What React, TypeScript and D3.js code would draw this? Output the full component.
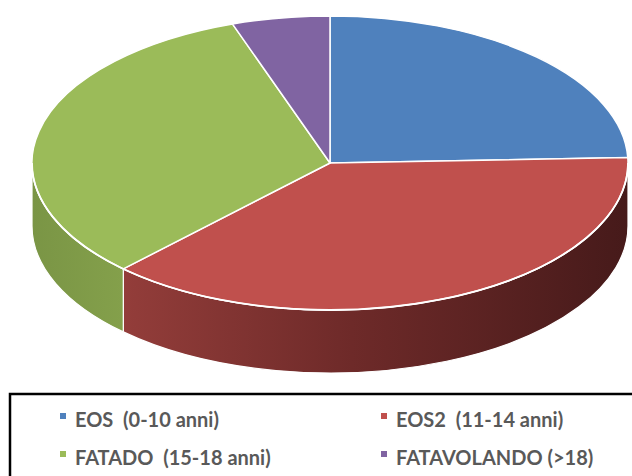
import * as d3 from 'd3'

const labels = ['EOS  (0-10 anni)', 'EOS2  (11-14 anni)', 'FATADO  (15-18 anni)', 'FATAVOLANDO (>18)']
const values = [24.4, 37.8, 32.5, 5.3]
const colors = ['#4F81BD', '#C0504D', '#9BBB59', '#8064A2']

const W = 632
const H = 476

export default function App() {
  const cx = 330
  const cy = 163
  const rx = 298
  const ry = 147
  const depth = 63

  const pie = d3.pie<number>().sort(null).startAngle(0).endAngle(2 * Math.PI)
  const arcs = pie(values)

  const pt = (a: number, off = 0) => [cx + rx * Math.sin(a), cy - ry * Math.cos(a) + off]

  const topPath = (a0: number, a1: number) => {
    const p0 = pt(a0)
    const p1 = pt(a1)
    const large = a1 - a0 > Math.PI ? 1 : 0
    return `M${cx},${cy}L${p0[0]},${p0[1]}A${rx},${ry} 0 ${large} 1 ${p1[0]},${p1[1]}Z`
  }

  const sidePath = (a0: number, a1: number) => {
    const s = Math.max(a0, Math.PI / 2)
    const e = Math.min(a1, (3 * Math.PI) / 2)
    if (s >= e) return null
    const p0 = pt(s)
    const p1 = pt(e)
    const q1 = pt(e, depth)
    const q0 = pt(s, depth)
    return `M${p0[0]},${p0[1]}A${rx},${ry} 0 0 1 ${p1[0]},${p1[1]}L${q1[0]},${q1[1]}A${rx},${ry} 0 0 0 ${q0[0]},${q0[1]}Z`
  }

  // front rim highlight
  const rimA = pt(Math.PI / 2)
  const rimB = pt((3 * Math.PI) / 2)
  const rim = `M${rimA[0]},${rimA[1]}A${rx},${ry} 0 0 1 ${rimB[0]},${rimB[1]}`

  const markerX = [60, 381]
  const baseY = [427, 465]

  return (
    <svg width={W} height={H} style={{ position: 'absolute', left: 0, top: 0, background: '#fff' }}>
      <defs>
        <linearGradient id="side1" gradientUnits="userSpaceOnUse" x1={124} x2={629} y1={0} y2={0}>
          <stop offset="0" stopColor="#933D3A" />
          <stop offset="0.45" stopColor="#6E2A29" />
          <stop offset="1" stopColor="#461A1A" />
        </linearGradient>
        <linearGradient id="side2" gradientUnits="userSpaceOnUse" x1={32} x2={124} y1={0} y2={0}>
          <stop offset="0" stopColor="#7A9545" />
          <stop offset="1" stopColor="#84A04B" />
        </linearGradient>
        <linearGradient id="side0" gradientUnits="userSpaceOnUse" x1={32} x2={629} y1={0} y2={0}>
          <stop offset="0" stopColor="#3A5F8C" />
          <stop offset="1" stopColor="#2A4466" />
        </linearGradient>
        <linearGradient id="side3" gradientUnits="userSpaceOnUse" x1={32} x2={629} y1={0} y2={0}>
          <stop offset="0" stopColor="#5E4A78" />
          <stop offset="1" stopColor="#46375A" />
        </linearGradient>
      </defs>

      {arcs.map((d, i) => {
        const p = sidePath(d.startAngle, d.endAngle)
        return p ? <path key={'s' + i} d={p} fill={`url(#side${i})`} stroke="#fff" strokeWidth={1.2} strokeLinejoin="round" /> : null
      })}

      {arcs.map((d, i) => (
        <path key={'t' + i} d={topPath(d.startAngle, d.endAngle)} fill={colors[i]} stroke="#fff" strokeWidth={1.5} strokeLinejoin="round" />
      ))}
      <path d={rim} fill="none" stroke="#fff" strokeWidth={1.8} />

      <rect x={10} y={394} width={640} height={120} fill="none" stroke="#000" strokeWidth={2.5} />

      {labels.map((l, i) => {
        const x = markerX[i % 2]
        const y = baseY[Math.floor(i / 2)]
        return (
          <g key={'l' + i}>
            <rect x={x} y={y - 14} width={6} height={6} fill={colors[i]} />
            <text x={x + 15} y={y} fontFamily="Lato, 'Open Sans', sans-serif" fontWeight={700} fontSize={20} fill="#595959" style={{ whiteSpace: 'pre' }}>
              {l}
            </text>
          </g>
        )
      })}
    </svg>
  )
}
